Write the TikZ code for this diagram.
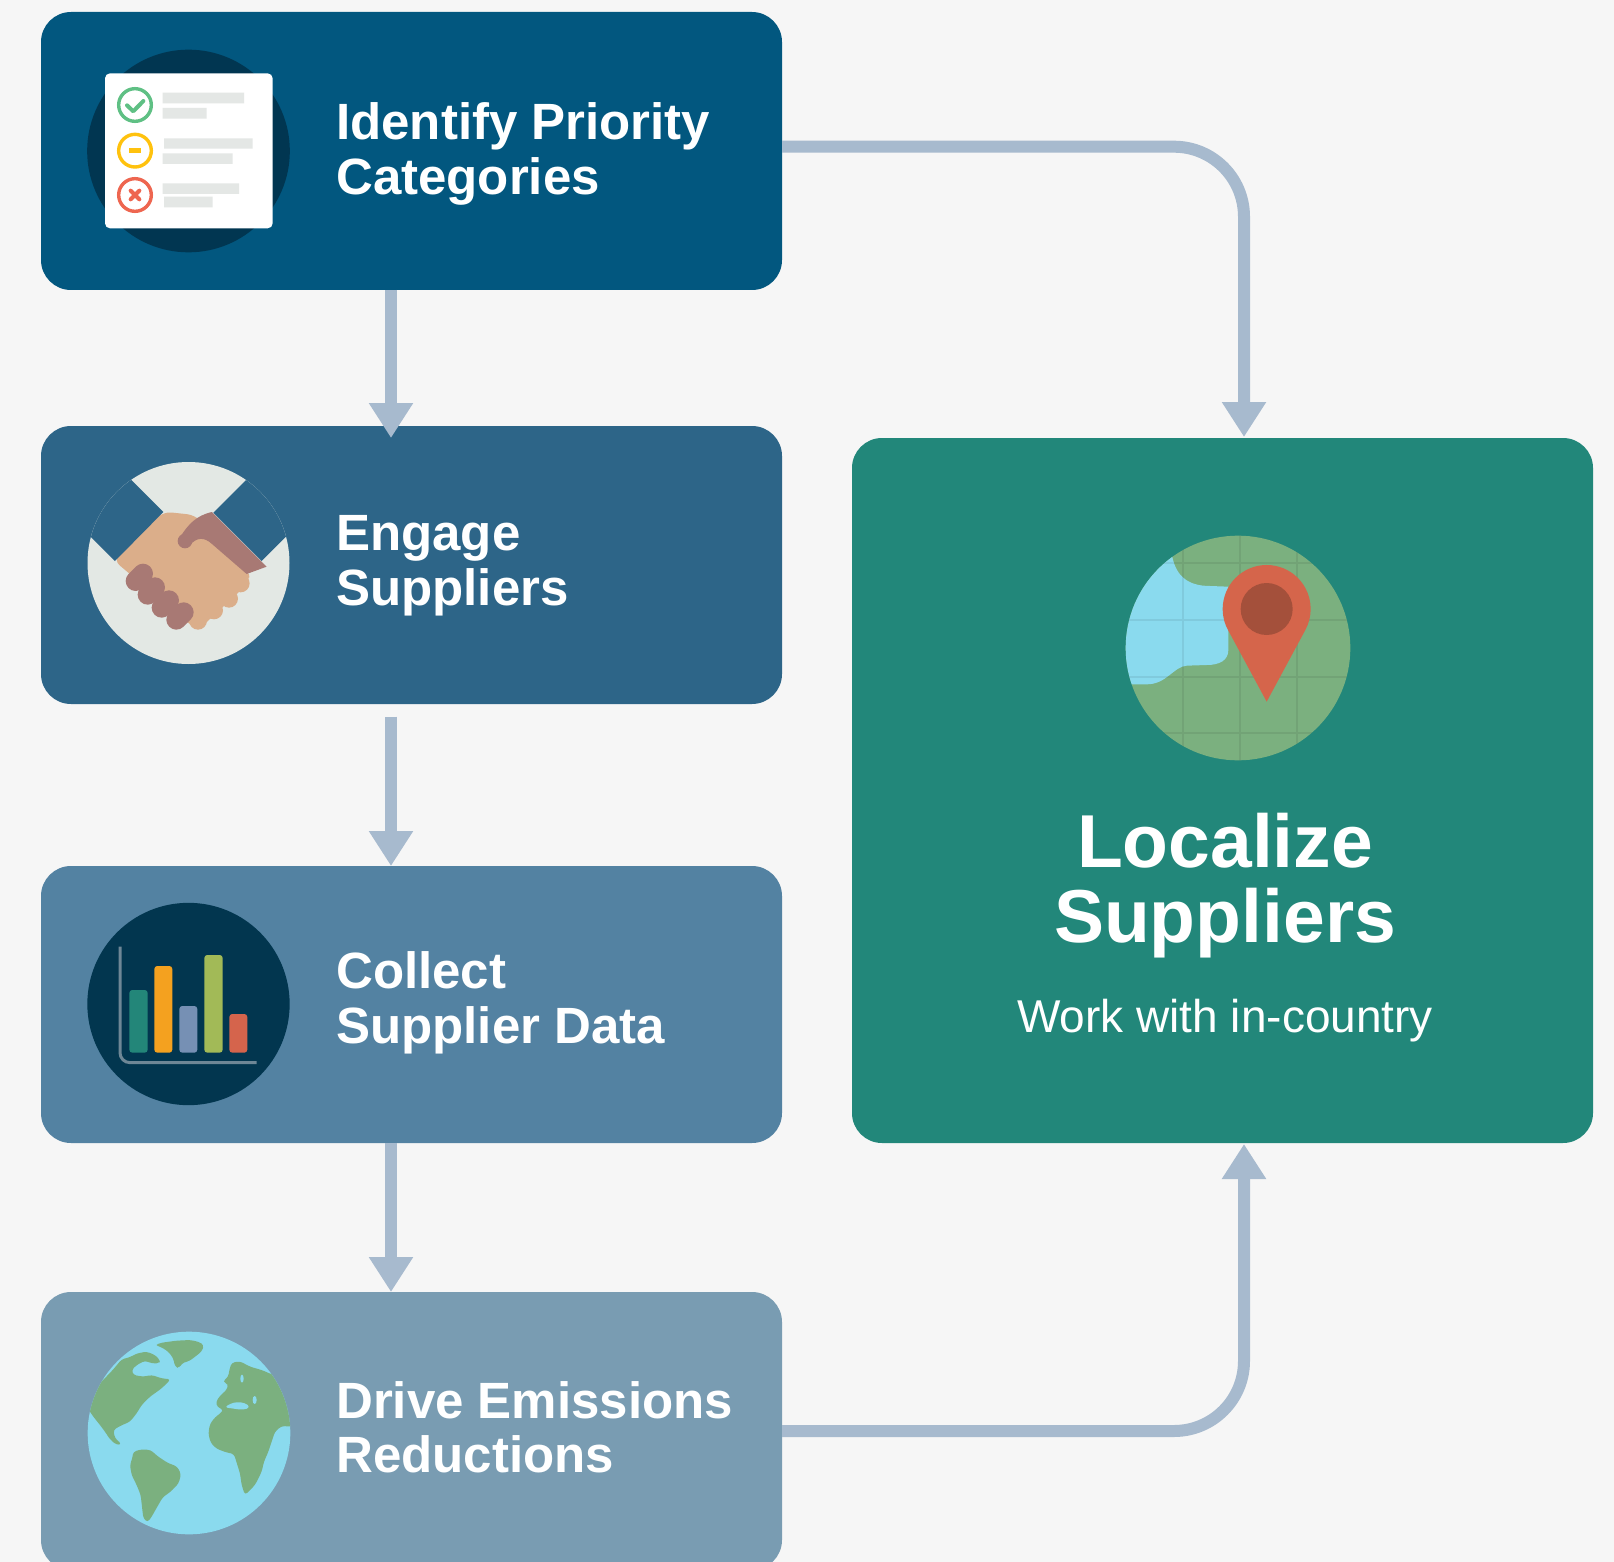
\documentclass[tikz,border=0pt]{standalone}
\usepackage{fontspec}
\setmainfont{Liberation Sans}
\usetikzlibrary{arrows.meta,calc}

\definecolor{pagebg}{HTML}{F6F6F6}
\definecolor{stepA}{HTML}{02577F}
\definecolor{stepAdark}{HTML}{013651}
\definecolor{stepB}{HTML}{2D6588}
\definecolor{stepC}{HTML}{5382A2}
\definecolor{stepD}{HTML}{799CB2}
\definecolor{localc}{HTML}{22877A}
\definecolor{linkc}{HTML}{A7BACE}
\definecolor{okgreen}{HTML}{5FC084}
\definecolor{midyellow}{HTML}{FFC20E}
\definecolor{badred}{HTML}{EE6650}
\definecolor{paperline}{HTML}{E4E7E5}
\definecolor{shakebg}{HTML}{E3E8E4}
\definecolor{skinlight}{HTML}{DBAE8A}
\definecolor{skindark}{HTML}{A87974}
\definecolor{chartbg}{HTML}{02364F}
\definecolor{axisc}{HTML}{6E8796}
\definecolor{barteal}{HTML}{238679}
\definecolor{barorange}{HTML}{F4A11F}
\definecolor{barblue}{HTML}{7690B4}
\definecolor{bargreen}{HTML}{A2BA57}
\definecolor{barred}{HTML}{D5644C}
\definecolor{ocean}{HTML}{8ADAEE}
\definecolor{land}{HTML}{7BB07F}
\definecolor{pinc}{HTML}{D5654B}
\definecolor{pindark}{HTML}{A4503B}

\begin{document}
\begin{tikzpicture}[x=1pt,y=-1pt,
  box/.style={rectangle, rounded corners=30pt, minimum width=741pt,
    inner sep=0pt, outer sep=0pt},
  title/.style={text=white, font=\bfseries\fontsize{51}{55}\selectfont,
    anchor=base west, inner sep=0pt},
  bigtitle/.style={text=white, font=\bfseries\fontsize{75}{75}\selectfont,
    anchor=base, inner sep=0pt},
  subtitle/.style={text=white, font=\fontsize{46}{46}\selectfont,
    anchor=base, inner sep=0pt},
  conn/.style={draw=linkc, line width=12pt,
    -{Triangle[width=42pt,length=35pt]}}]

\path[use as bounding box] (0,0) rectangle (1614,1562);
\clip (0,0) rectangle (1614,1562);
\fill[pagebg] (0,0) rectangle (1614,1562);

% step boxes
\node[box, fill=stepA, minimum height=278pt] (b1) at (411.5,151) {};
\node[box, fill=stepB, minimum height=278pt] (b2) at (411.5,565) {};
\node[box, fill=stepC, minimum height=277pt] (b3) at (411.5,1004.5) {};
\node[box, fill=stepD, minimum height=278pt] (b4) at (411.5,1431) {};
\node[box, fill=localc, minimum height=705pt] (rb) at (1222.5,790.5) {};

% connectors
\coordinate (lx) at (391,0);
\coordinate (rx) at (1244,0);
\draw[conn] (b1.south -| lx) -- ($(b2.north -| lx)+(0,12)$);
\draw[conn] ($(b2.south -| lx)+(0,12.7)$) -- (b3.north -| lx);
\draw[conn] (b3.south -| lx) -- (b4.north -| lx);
\draw[conn, rounded corners=70pt] ($(b1.east)+(0,-4.3)$) -| ($(rb.north -| rx)+(0,-1)$);
\draw[conn, rounded corners=70pt] (b4.east) -| ($(rb.south -| rx)+(0,1)$);

% titles
\node[title] (t1a) at (336,140) {Identify Priority};
\node[title] (t1b) at (336,195) {Categories};
\node[title] (t2a) at (336,550) {Engage};
\node[title] (t2b) at (336,605) {Suppliers};
\node[title] (t3a) at (336,988) {Collect};
\node[title] (t3b) at (336,1043) {Supplier Data};
\node[title] (t4a) at (336,1418) {Drive Emissions};
\node[title] (t4b) at (336,1472) {Reductions};
\node[bigtitle] (t5a) at (1225,867) {Localize};
\node[bigtitle] (t5b) at (1225,942) {Suppliers};
\node[subtitle] (t5c) at (1225,1032) {Work with in-country};

% checklist icon
\begin{scope}[shift={(80,40)}, scale=0.33333]
  \fill[stepAdark] (325.5,333) circle[radius=304];
  \fill[white, rounded corners=5pt] (75,100) rectangle (578,565);
  \draw[okgreen, line width=3.4pt] (165,195) circle[radius=49];
  \draw[okgreen, line width=4pt, line cap=round, line join=round]
    (141,196) -- (160,214) -- (190,183);
  \draw[midyellow, line width=3.4pt] (165,332) circle[radius=49];
  \fill[midyellow] (148,324) rectangle (184,339);
  \draw[badred, line width=3.4pt] (165,465) circle[radius=49];
  \draw[badred, line width=4pt, line cap=round]
    (152,452) -- (178,478) (152,478) -- (178,452);
  \fill[paperline] (248,158) rectangle (492,190)
                   (248,204) rectangle (380,236)
                   (252,295) rectangle (518,326)
                   (248,340) rectangle (458,372)
                   (248,430) rectangle (477,462)
                   (252,470) rectangle (398,502);
\end{scope}

% handshake icon
\begin{scope}[shift={(80,450)}, scale=0.33333]
  \fill[shakebg] (325.5,339) circle[radius=303];
  \fill[skinlight, rounded corners=8pt]
    (100,330) -- (250,185) -- (345,195) -- (505,360) -- (510,395)
    -- (360,535) -- (330,525) -- cycle;
  \fill[skinlight] (482,400) circle[radius=27] (447,446) circle[radius=27]
                   (402,481) circle[radius=27] (354,512) circle[radius=27];
  \fill[skindark] (396,186) -- (560,350) -- (500,372) -- (396,282)
    .. controls (372,260) and (350,262) .. (330,285) -- (300,262)
    .. controls (325,222) and (350,196) .. cycle;
  \fill[skindark] (315,273) circle[radius=22];
  \foreach \c in {(178,382),(214,423),(256,462),(300,498)}
    \draw[skindark, line width=20pt, line cap=round] \c ++(-11,11) -- ++(22,-22);
  \begin{scope}
    \clip (325.5,339) circle[radius=303];
    \fill[stepB] (250,186) -- (105,333) -- (-95,133) -- (50,-14) -- cycle;
    \fill[stepB] (400,188) -- (545,333) -- (745,133) -- (600,-12) -- cycle;
  \end{scope}
\end{scope}

% bar chart icon
\begin{scope}[shift={(80,890)}, scale=0.33333]
  \fill[chartbg] (325.5,342) circle[radius=303.5];
  \draw[axisc, line width=3pt, rounded corners=10pt]
    (120,170) -- (120,518) -- (530,518);
  \fill[barteal, rounded corners=3pt] (148,300) rectangle (203,488);
  \fill[barorange, rounded corners=3pt] (223,228) rectangle (277,488);
  \fill[barblue, rounded corners=3pt] (298,348) rectangle (352,488);
  \fill[bargreen, rounded corners=3pt] (373,195) rectangle (428,488);
  \fill[barred, rounded corners=3pt] (448,372) rectangle (502,488);
\end{scope}

% globe icon
\begin{scope}[shift={(80,1320)}, scale=0.33333]
  \fill[ocean] (327,339) circle[radius=304];
  \begin{scope}
    \clip (327,339) circle[radius=304];
    \fill[land, rounded corners=3pt]
      (30,180) -- (60,190) -- (100,148) -- (125,118) -- (148,112)
      -- (172,100) -- (200,95) -- (225,105) -- (240,120) -- (238,130)
      -- (215,130) -- (195,122) -- (170,135) -- (155,150) -- (160,165)
      -- (190,170) -- (215,165) -- (245,175) -- (272,178) -- (245,205)
      -- (210,230) -- (185,255) -- (170,280) -- (150,305) -- (120,318)
      -- (100,330) -- (105,355) -- (125,372) -- (110,375) -- (90,358)
      -- (75,335) -- (60,315) -- (40,290) -- (20,260) -- cycle;
    \fill[land, rounded corners=3pt]
      (225,75) -- (245,68) -- (290,62) -- (330,60) -- (355,65) -- (372,75)
      -- (365,95) -- (345,110) -- (330,122) -- (305,130) -- (298,145)
      -- (285,140) -- (280,115) -- (265,95) -- (245,82) -- cycle;
    \fill[land, rounded corners=3pt]
      (160,395) -- (185,388) -- (212,390) -- (232,408) -- (262,428)
      -- (292,440) -- (303,462) -- (296,490) -- (272,515) -- (248,532)
      -- (232,560) -- (215,590) -- (203,607) -- (190,595) -- (186,560)
      -- (182,525) -- (170,495) -- (155,465) -- (150,435) -- (158,410) -- cycle;
    \fill[land, rounded corners=3pt]
      (455,128) -- (480,124) -- (510,140) -- (545,150) -- (575,163)
      -- (640,168) -- (640,320) -- (605,318) -- (585,335) -- (575,365)
      -- (565,395) -- (552,425) -- (545,455) -- (525,495) -- (495,525)
      -- (485,495) -- (480,460) -- (470,428) -- (462,402) -- (435,396)
      -- (408,385) -- (392,368) -- (385,340) -- (390,312) -- (405,292)
      -- (425,277) -- (430,268) -- (412,262) -- (408,245) -- (422,225)
      -- (440,210) -- (445,192) -- (428,185) -- (445,170) -- (448,150) -- cycle;
    % inland seas
    \fill[ocean, rounded corners=4pt] (432,262) -- (462,246) -- (495,248)
      -- (512,262) -- (490,270) -- (462,266) -- cycle;
    \fill[ocean] (524,240) ellipse[x radius=6, y radius=12];
    \fill[ocean] (486,176) ellipse[x radius=5, y radius=12];
  \end{scope}
\end{scope}

% map pin icon
\begin{scope}[shift={(1110,520)}, scale=0.33333]
  \fill[land] (384,384) circle[radius=337];
  \begin{scope}
    \clip (384,384) circle[radius=337];
    \fill[ocean] (185,-10) -- (185,100)
      .. controls (195,165) and (230,198) .. (300,198) -- (355,200)
      -- (355,390) .. controls (355,420) and (330,435) .. (290,435)
      -- (230,437) .. controls (190,440) and (170,493) .. (110,493)
      -- (-10,493) -- (-10,-10) -- cycle;
    \draw[black, opacity=0.07, line width=2pt]
      (220,0) -- (220,760) (390,0) -- (390,760) (560,0) -- (560,760)
      (0,130) -- (760,130) (0,300) -- (760,300)
      (0,470) -- (760,470) (0,640) -- (760,640);
  \end{scope}
  \fill[pinc] ($(470,267)+(151.7:132)$) arc[start angle=151.7, end angle=388.3, radius=132]
    -- (470,545) -- cycle;
  \fill[pindark] (470,267) circle[radius=78];
\end{scope}

\end{tikzpicture}
\end{document}
